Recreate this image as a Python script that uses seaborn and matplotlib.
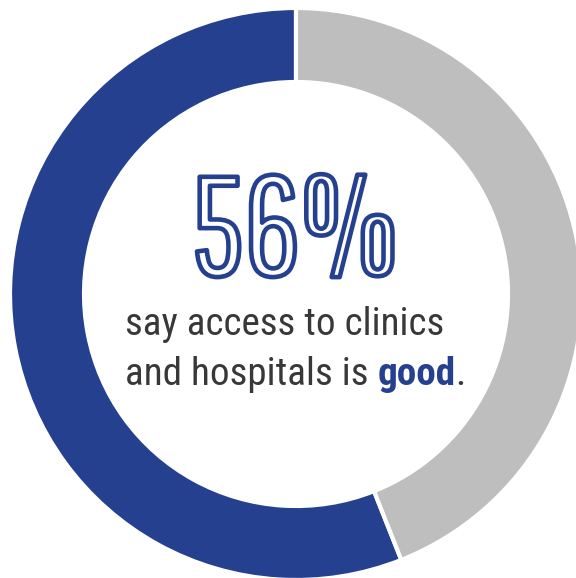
import matplotlib
matplotlib.use("Agg")
import matplotlib.pyplot as plt
import matplotlib.patheffects as pe
import seaborn as sns

# ---- data ----
categories = ["Good", "Not good"]
shares = [56, 44]
headline = f"{shares[0]}%"
line1 = "say access to clinics"
line2_parts = ["and hospitals is ", "good", "."]

BLUE = "#25408F"
GRAY = "#BEBEBE"
TEXT = "#383838"

sns.set_theme(style="white")
palette = sns.color_palette([BLUE, GRAY])

W, H = 576, 578
fig = plt.figure(figsize=(W / 100, H / 100), dpi=100)
ax = fig.add_axes([0, 0, 1, 1])

cx, cy = 296, H - 294
ax.pie(shares, colors=palette, startangle=90, counterclock=True,
       center=(cx, cy), radius=286, frame=True,
       wedgeprops=dict(width=74, edgecolor="white", linewidth=3.0))
ax.set_xlim(0, W)
ax.set_ylim(0, H)
ax.set_aspect("equal")
ax.axis("off")

# headline: outlined condensed numerals
ax.text(cx - 1.5, H - 275, headline, ha="center", va="baseline",
        fontsize=101, family=["Pathway Gothic One", "DejaVu Sans"], color="white",
        path_effects=[pe.Stroke(linewidth=3.3, foreground=BLUE)])

fam = ["Roboto Condensed", "DejaVu Sans"]
fs = 28.2
ax.text(125, H - 335, line1, ha="left", va="baseline", fontsize=fs,
        family=fam, color=TEXT)
t1 = ax.text(125, H - 385, line2_parts[0], ha="left", va="baseline",
             fontsize=fs, family=fam, color=TEXT)
t2 = ax.annotate(line2_parts[1], xy=(1, 0), xycoords=t1, ha="left", va="bottom",
                 fontsize=fs, family=fam, color=BLUE, fontweight="bold")
t3 = ax.annotate(line2_parts[2], xy=(1, 0), xycoords=t2, ha="left", va="bottom",
                 fontsize=fs, family=fam, color=TEXT)

fig.savefig("out.png", dpi=100)
